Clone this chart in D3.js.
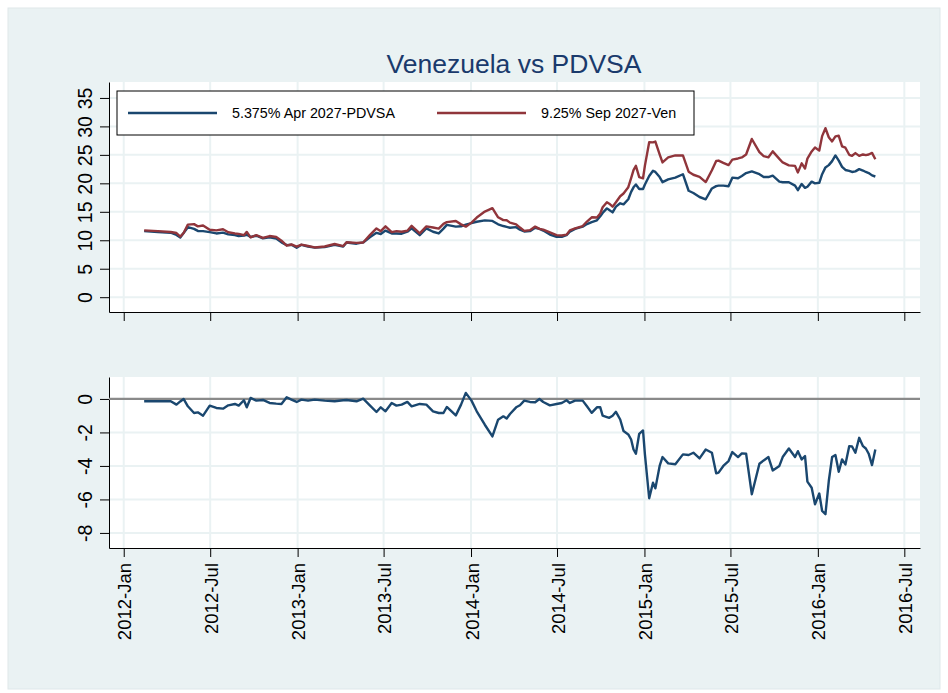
<!DOCTYPE html>
<html>
<head>
<meta charset="utf-8">
<script src="https://cdn.jsdelivr.net/npm/d3@7"></script>
<style>
  body { margin: 0; background: #fff; }
  text { font-family: "Liberation Sans", Arial, sans-serif; }
</style>
</head>
<body>
<div class="container"></div>
<script>
var dates = [
  "2012-02-13","2012-03-13","2012-04-09","2012-04-21","2012-04-29","2012-05-06","2012-05-15","2012-05-28","2012-06-05","2012-06-16",
  "2012-06-30","2012-07-14","2012-07-28","2012-08-08","2012-08-22","2012-08-30","2012-09-10","2012-09-16","2012-09-24","2012-10-06",
  "2012-10-20","2012-11-03","2012-11-17","2012-11-28","2012-12-09","2012-12-19","2012-12-30",
  "2013-01-09","2013-01-23","2013-02-06","2013-02-27","2013-03-20","2013-04-07","2013-04-14","2013-05-05","2013-05-19","2013-06-02",
  "2013-06-16","2013-06-25","2013-07-05","2013-07-18","2013-07-28","2013-08-08","2013-08-20","2013-08-29","2013-09-15","2013-09-29",
  "2013-10-13","2013-10-25","2013-11-04","2013-11-11","2013-11-30","2013-12-11","2013-12-21",
  "2014-01-02","2014-01-13","2014-01-30","2014-02-15","2014-02-27","2014-03-10","2014-03-17","2014-03-24","2014-04-06","2014-04-14",
  "2014-04-23","2014-05-05","2014-05-16","2014-05-25","2014-06-02","2014-06-16","2014-06-30","2014-07-11","2014-07-21","2014-07-28",
  "2014-08-08","2014-08-24","2014-09-02","2014-09-12","2014-09-23","2014-09-30","2014-10-05","2014-10-14","2014-10-19","2014-10-26",
  "2014-11-02","2014-11-11","2014-11-18","2014-11-28","2014-12-04","2014-12-09","2014-12-14","2014-12-21","2014-12-29",
  "2015-01-02","2015-01-11","2015-01-19","2015-01-24","2015-02-02","2015-02-08","2015-02-20","2015-03-07","2015-03-23","2015-04-04",
  "2015-04-14","2015-04-27","2015-05-10","2015-05-23","2015-06-01","2015-06-06","2015-06-16","2015-06-27","2015-07-05","2015-07-17",
  "2015-07-25","2015-08-03","2015-08-15","2015-08-31","2015-09-09","2015-09-19","2015-09-28","2015-10-12","2015-10-19","2015-11-01",
  "2015-11-14","2015-11-20","2015-11-28","2015-12-05","2015-12-10","2015-12-19","2015-12-26",
  "2016-01-04","2016-01-10","2016-01-17","2016-01-24","2016-01-31","2016-02-07","2016-02-14","2016-02-21","2016-02-28","2016-03-07",
  "2016-03-13","2016-03-20","2016-03-28","2016-04-05","2016-04-11","2016-04-17","2016-04-24","2016-05-01"
];

// 5.375% Apr 2027 PDVSA
var pdvsa = [
  11.6,11.46,11.32,10.93,10.5,11.28,12.3,12.0,11.64,11.6,
  11.44,11.2,11.35,11.03,10.9,10.72,10.81,10.97,10.57,10.8,
  10.35,10.5,10.3,9.63,9.15,9.22,8.7,
  9.2,8.9,8.7,8.8,9.2,8.9,9.6,9.4,9.62,10.52,
  11.3,11.1,11.7,11.2,11.2,11.15,11.5,12.1,10.9,12.1,
  11.5,11.2,12.04,12.7,12.4,12.45,12.75,
  13.0,13.25,13.5,13.4,12.8,12.5,12.35,12.2,12.3,11.85,
  11.55,11.6,12.2,12.0,11.7,11.0,10.6,10.6,10.9,11.5,
  12.0,12.4,12.85,13.2,13.5,14.2,14.8,15.6,15.3,14.9,
  15.9,16.5,16.3,17.2,18.5,19.3,19.8,19.0,19.0,
  19.8,21.3,22.2,22.0,21.1,20.2,20.7,21.0,21.6,18.7,
  18.3,17.6,17.2,19.1,19.5,19.6,19.6,19.5,21.0,20.9,
  21.3,21.8,22.1,21.6,21.1,21.1,21.35,20.3,20.2,20.2,
  19.6,18.8,19.9,19.2,19.4,20.3,20.0,
  20.1,21.6,22.8,23.2,23.9,24.9,24.0,22.9,22.35,22.2,
  22.0,22.1,22.5,22.25,22.0,21.8,21.4,21.2
];

// 9.25% Sep 2027 Venezuela
var ven = [
  11.74,11.6,11.46,11.27,10.65,11.28,12.74,12.84,12.44,12.6,
  11.84,11.74,11.93,11.41,11.2,11.12,10.89,11.47,10.51,10.9,
  10.41,10.74,10.58,9.93,9.05,9.26,8.88,
  9.24,9.0,8.74,8.9,9.34,8.98,9.66,9.54,9.6,10.9,
  12.08,11.6,12.44,11.44,11.6,11.49,11.68,12.54,11.2,12.44,
  12.24,12.04,12.88,13.18,13.38,12.79,12.39,
  13.1,13.99,15.04,15.64,14.04,13.54,13.52,13.1,12.8,12.23,
  11.65,11.78,12.4,12.0,11.88,11.38,10.9,10.84,10.98,11.74,
  12.1,12.5,13.29,14.03,14.0,14.7,15.8,16.68,16.43,15.9,
  16.67,17.73,18.22,19.32,20.92,22.32,23.07,21.08,20.88,
  23.11,27.23,27.2,27.34,25.1,23.67,24.55,24.9,24.91,22.05,
  21.51,21.15,20.22,22.31,23.94,24.0,23.6,23.21,24.17,24.37,
  24.55,25.07,27.79,25.47,24.77,24.57,25.62,24.3,23.67,23.16,
  23.07,21.92,23.51,22.61,24.34,25.6,26.29,
  25.75,28.29,29.68,28.1,27.37,28.25,28.35,26.51,26.26,25.02,
  24.84,25.31,24.82,25.07,24.96,25.07,25.35,24.22
];

// PDVSA minus Venezuela
var spread = [
  -0.14,-0.14,-0.14,-0.34,-0.15,0.0,-0.44,-0.84,-0.8,-1.0,
  -0.4,-0.54,-0.58,-0.38,-0.3,-0.4,-0.08,-0.5,0.06,-0.1,
  -0.06,-0.24,-0.28,-0.3,0.1,-0.04,-0.18,
  -0.04,-0.1,-0.04,-0.1,-0.14,-0.08,-0.06,-0.14,0.02,-0.38,
  -0.78,-0.5,-0.74,-0.24,-0.4,-0.34,-0.18,-0.44,-0.3,-0.34,
  -0.74,-0.84,-0.84,-0.48,-0.98,-0.34,0.36,
  -0.1,-0.74,-1.54,-2.24,-1.24,-1.04,-1.17,-0.9,-0.5,-0.38,
  -0.1,-0.18,-0.2,0.0,-0.18,-0.38,-0.3,-0.24,-0.08,-0.24,
  -0.1,-0.1,-0.44,-0.83,-0.5,-0.5,-1.0,-1.08,-1.13,-1.0,
  -0.77,-1.23,-1.92,-2.12,-2.42,-3.02,-3.27,-2.08,-1.88,
  -3.31,-5.93,-5.0,-5.34,-4.0,-3.47,-3.85,-3.9,-3.31,-3.35,
  -3.21,-3.55,-3.02,-3.21,-4.44,-4.4,-4.0,-3.71,-3.17,-3.47,
  -3.25,-3.27,-5.69,-3.87,-3.67,-3.47,-4.27,-4.0,-3.47,-2.96,
  -3.47,-3.12,-3.61,-3.41,-4.94,-5.3,-6.29,
  -5.65,-6.69,-6.88,-4.9,-3.47,-3.35,-4.35,-3.61,-3.91,-2.82,
  -2.84,-3.21,-2.32,-2.82,-2.96,-3.27,-3.95,-3.02
];

var tickDates = ["2012-01-01","2012-07-01","2013-01-01","2013-07-01","2014-01-01",
                 "2014-07-01","2015-01-01","2015-07-01","2016-01-01","2016-07-01"];
var topTicks = [0, 5, 10, 15, 20, 25, 30, 35];
var bottomTicks = [0, -2, -4, -6, -8];
var seriesNames = ["5.375% Apr 2027-PDVSA", "9.25% Sep 2027-Ven"];
var title = "Venezuela vs PDVSA";

var navy = "#1a476f", maroon = "#90353b", bluish = "#eaf2f3";

var parse = d3.timeParse("%Y-%m-%d");
var fmt = d3.timeFormat("%Y-%b");
var rows = dates.map(function(d, i) {
  return { date: parse(d), pdvsa: pdvsa[i], ven: ven[i], spread: spread[i] };
});
var ticks = tickDates.map(parse);

var svg = d3.select('.container')
  .append('svg').attr('width', 948).attr('height', 693);

// graph region
svg.append('rect').attr('x', 8).attr('y', 8).attr('width', 932).attr('height', 681)
  .style('fill', bluish).style('stroke', '#dfe8ea');

var x = d3.scaleTime()
  .domain([parse("2011-12-01"), parse("2016-08-03")])
  .range([109, 920]);
var yTop = d3.scaleLinear().domain([-2.6, 37.8]).range([312, 82]);
var yBot = d3.scaleLinear().domain([-8.9, 1.31]).range([548, 377]);

var drawPanel = function(y, yTicks, showLabels) {
  var top = y.range()[1], bottom = y.range()[0];
  var g = svg.append('g');

  g.append('rect').attr('x', 109).attr('y', top)
    .attr('width', 811).attr('height', bottom - top)
    .style('fill', '#fff');

  // grid
  g.selectAll('.hgrid').data(yTicks).enter().append('line')
    .attr('x1', 109).attr('x2', 920)
    .attr('y1', function(d) { return y(d); })
    .attr('y2', function(d) { return y(d); })
    .style('stroke', bluish).style('stroke-width', 2);
  g.selectAll('.vgrid').data(ticks).enter().append('line')
    .attr('x1', function(d) { return x(d); })
    .attr('x2', function(d) { return x(d); })
    .attr('y1', top).attr('y2', bottom)
    .style('stroke', bluish).style('stroke-width', 2);

  // y axis
  var ya = g.append('g').attr('transform', 'translate(109,0)')
    .call(d3.axisLeft(y).tickValues(yTicks).tickSize(9).tickSizeOuter(0)
      .tickFormat(function(d) { return String(d); }));
  ya.selectAll('text')
    .attr('x', 0).attr('dy', 0)
    .attr('transform', 'translate(-17,0) rotate(-90)')
    .style('text-anchor', 'middle')
    .style('font-size', '19.5px').style('fill', '#000');

  // x axis
  var xa = g.append('g').attr('transform', 'translate(0,' + bottom + ')')
    .call(d3.axisBottom(x).tickValues(ticks).tickSize(9).tickSizeOuter(0)
      .tickFormat(showLabels ? fmt : function() { return ""; }));
  xa.selectAll('text')
    .attr('x', 0).attr('y', 0).attr('dy', 0)
    .attr('transform', 'translate(7,15) rotate(-90)')
    .style('text-anchor', 'end')
    .style('font-size', '18.5px').style('fill', '#000');

  g.selectAll('.domain, .tick line').style('stroke', '#000').style('stroke-width', 1);
  return g;
};

var topPanel = drawPanel(yTop, topTicks, false);
var botPanel = drawPanel(yBot, bottomTicks, true);

// top: the two yields
var lineTop = function(key) {
  return d3.line()
    .x(function(d) { return x(d.date); })
    .y(function(d) { return yTop(d[key]); });
};
topPanel.append('path').datum(rows).attr('d', lineTop('pdvsa'))
  .style('fill', 'none').style('stroke', navy).style('stroke-width', 2.4)
  .style('stroke-linejoin', 'round');
topPanel.append('path').datum(rows).attr('d', lineTop('ven'))
  .style('fill', 'none').style('stroke', maroon).style('stroke-width', 2.4)
  .style('stroke-linejoin', 'round');

// bottom: zero line + spread
botPanel.append('line').attr('x1', 109).attr('x2', 920)
  .attr('y1', yBot(0)).attr('y2', yBot(0))
  .style('stroke', '#8a8a8a').style('stroke-width', 2.2);
botPanel.append('path').datum(rows)
  .attr('d', d3.line()
    .x(function(d) { return x(d.date); })
    .y(function(d) { return yBot(d.spread); }))
  .style('fill', 'none').style('stroke', navy).style('stroke-width', 2.4)
  .style('stroke-linejoin', 'round');

// legend
var legend = svg.append('g');
legend.append('rect').attr('x', 117).attr('y', 91).attr('width', 577).attr('height', 44)
  .style('fill', '#fff').style('stroke', '#000').style('stroke-width', 1);
var items = [{ name: seriesNames[0], color: navy, x: 128 }, { name: seriesNames[1], color: maroon, x: 437 }];
legend.selectAll('.lline').data(items).enter().append('line')
  .attr('x1', function(d) { return d.x; })
  .attr('x2', function(d) { return d.x + 89; })
  .attr('y1', 113).attr('y2', 113)
  .style('stroke', function(d) { return d.color; }).style('stroke-width', 2.4);
legend.selectAll('.ltext').data(items).enter().append('text')
  .attr('x', function(d) { return d.x + 104; })
  .attr('y', 118)
  .style('font-size', '14.3px').style('fill', '#000')
  .text(function(d) { return d.name; });

// title
svg.append('text').attr('x', 514).attr('y', 73)
  .style('text-anchor', 'middle').style('font-size', '26.5px').style('fill', '#1a3a6c')
  .text(title);
</script>
</body>
</html>
